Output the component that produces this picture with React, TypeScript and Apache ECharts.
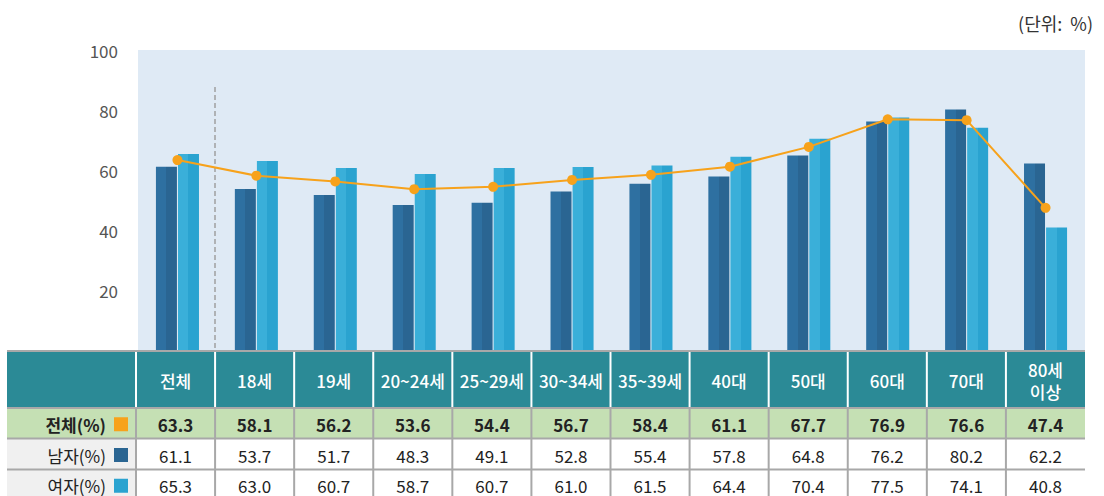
import React, { useEffect, useRef } from "react";
import * as echarts from "echarts";

const categories = ["전체", "18세", "19세", "20~24세", "25~29세", "30~34세", "35~39세", "40대", "50대", "60대", "70대", "80세\n이상"];
const totalValues = [63.3, 58.1, 56.2, 53.6, 54.4, 56.7, 58.4, 61.1, 67.7, 76.9, 76.6, 47.4];
const maleValues = [61.1, 53.7, 51.7, 48.3, 49.1, 52.8, 55.4, 57.8, 64.8, 76.2, 80.2, 62.2];
const femaleValues = [65.3, 63.0, 60.7, 58.7, 60.7, 61.0, 61.5, 64.4, 70.4, 77.5, 74.1, 40.8];
const rowLabels = ["전체(%)", "남자(%)", "여자(%)"];
const unitLabel = "(단위:  %)";

const FONT = "'Noto Sans CJK KR', 'Noto Sans', sans-serif";
const ORANGE = "#f7a21b";
const MALE_A = "#2e70a1";
const MALE_B = "#2a6592";
const FEMALE_A = "#3aafd9";
const FEMALE_B = "#2aa3d0";

function twoTone(a: string, b: string) {
  return {
    type: "linear", x: 0, y: 0, x2: 1, y2: 0,
    colorStops: [
      { offset: 0, color: a }, { offset: 0.5, color: a },
      { offset: 0.5, color: b }, { offset: 1, color: b },
    ],
  };
}

export default function App() {
  const ref = useRef<HTMLDivElement>(null);
  useEffect(() => {
    if (!ref.current) return;
    const chart = echarts.init(ref.current, null, { renderer: "svg" });
    const W = 1104;
    const gridLeft = 138;
    const gridRight = 1085;
    const gridTop = 50;
    const gridBottom = 350;
    const tableLeft = 7;
    const firstColEnd = 136;
    const colW = (gridRight - firstColEnd) / categories.length;
    const rowsY = [351, 408, 438.5, 469.5, 500];
    const gray = "#a8a8a8";

    const g: any[] = [];
    g.push({ type: "rect", shape: { x: tableLeft, y: rowsY[0], width: gridRight - tableLeft, height: rowsY[1] - rowsY[0] }, style: { fill: "#2b8a96" }, silent: true });
    g.push({ type: "rect", shape: { x: tableLeft, y: rowsY[1], width: gridRight - tableLeft, height: rowsY[2] - rowsY[1] }, style: { fill: "#c5e0b4" }, silent: true });
    g.push({ type: "rect", shape: { x: tableLeft, y: rowsY[2], width: gridRight - tableLeft, height: rowsY[4] - rowsY[2] }, style: { fill: "#ffffff" }, silent: true });
    g.push({ type: "rect", shape: { x: tableLeft, y: rowsY[2], width: firstColEnd - tableLeft, height: rowsY[4] - rowsY[2] }, style: { fill: "#f0f0f0" }, silent: true });
    for (let i = 0; i < categories.length; i++) {
      const x = firstColEnd + i * colW;
      g.push({ type: "line", shape: { x1: x, y1: rowsY[0], x2: x, y2: rowsY[1] }, style: { stroke: "#ffffff", lineWidth: 2 }, silent: true });
      g.push({ type: "line", shape: { x1: x, y1: rowsY[1], x2: x, y2: rowsY[4] }, style: { stroke: gray, lineWidth: 2 }, silent: true });
    }
    for (let r = 0; r < 4; r++) {
      g.push({ type: "line", shape: { x1: tableLeft, y1: rowsY[r], x2: gridRight, y2: rowsY[r] }, style: { stroke: gray, lineWidth: 2 }, silent: true });
    }
    categories.forEach((c, i) => {
      g.push({
        type: "text", x: firstColEnd + (i + 0.5) * colW, y: (rowsY[0] + rowsY[1]) / 2 + 1,
        style: { text: c, fill: "#ffffff", font: `500 17px ${FONT}`, align: "center", verticalAlign: "middle", lineHeight: 22 },
        silent: true,
      });
    });
    const rows = [totalValues, maleValues, femaleValues];
    const swatch = [ORANGE, MALE_B, FEMALE_B];
    rows.forEach((vals, r) => {
      const cy = (rowsY[r + 1] + rowsY[r + 2]) / 2 + 1;
      const weight = r === 0 ? "bold" : "normal";
      g.push({
        type: "text", x: 106, y: cy,
        style: { text: rowLabels[r], fill: "#222222", font: `${weight} 17px ${FONT}`, align: "right", verticalAlign: "middle" },
        silent: true,
      });
      g.push({ type: "rect", shape: { x: 114, y: cy - 7, width: 14, height: 14 }, style: { fill: swatch[r] }, silent: true });
      vals.forEach((v, i) => {
        g.push({
          type: "text", x: firstColEnd + (i + 0.5) * colW, y: cy,
          style: { text: v.toFixed(1), fill: "#222222", font: `${weight} 17px ${FONT}`, align: "center", verticalAlign: "middle" },
          silent: true,
        });
      });
    });
    g.push({ type: "line", z: 5, shape: { x1: 215, y1: 87, x2: 215, y2: gridBottom }, style: { stroke: "#a0a0a0", lineWidth: 1.5, lineDash: [5, 3] }, silent: true });
    g.push({ type: "text", x: 1093, y: 23, style: { text: unitLabel, fill: "#333333", font: `18px ${FONT}`, align: "right", verticalAlign: "middle" }, silent: true });

    chart.setOption({
      animation: false,
      grid: {
        left: gridLeft, right: W - gridRight, top: gridTop, bottom: 496 - gridBottom,
        show: true, backgroundColor: "#dfeaf5", borderWidth: 0,
      },
      xAxis: {
        type: "category", data: categories,
        axisLine: { show: false }, axisTick: { show: false }, axisLabel: { show: false },
      },
      yAxis: {
        type: "value", min: 0, max: 100, interval: 20,
        axisLine: { show: false }, axisTick: { show: false }, splitLine: { show: false },
        axisLabel: {
          margin: 20, color: "#555555", fontSize: 17, fontFamily: FONT,
          formatter: (v: number) => (v === 0 ? "" : String(v)),
        },
      },
      series: [
        {
          type: "bar", name: "남자", data: maleValues, barWidth: 21, barGap: "5%",
          itemStyle: { color: twoTone(MALE_A, MALE_B) },
        },
        {
          type: "bar", name: "여자", data: femaleValues, barWidth: 21,
          itemStyle: { color: twoTone(FEMALE_A, FEMALE_B) },
        },
        {
          type: "line", name: "전체", data: totalValues, z: 10,
          symbol: "circle", symbolSize: 10,
          lineStyle: { color: ORANGE, width: 2 }, itemStyle: { color: ORANGE },
        },
      ],
      graphic: g,
    });
    return () => chart.dispose();
  }, []);
  return <div ref={ref} style={{ position: "absolute", left: 0, top: 0, width: 1104, height: 496 }} />;
}
